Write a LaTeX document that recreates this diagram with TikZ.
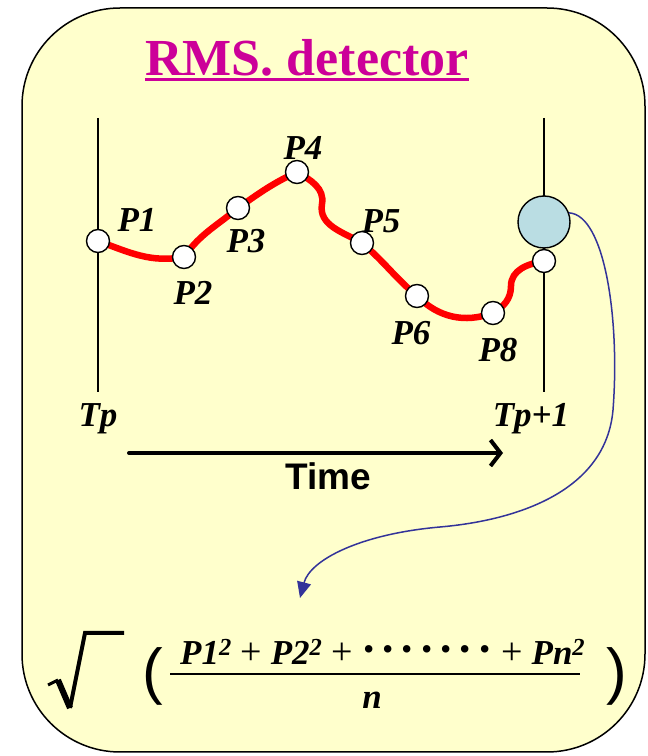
\documentclass[tikz,border=0pt]{standalone}
\usepackage{fontspec}
\setmainfont{Liberation Serif}
\setsansfont{Liberation Sans}
\usetikzlibrary{arrows.meta, positioning}
\definecolor{boxfill}{HTML}{FFFFCC}
\definecolor{titlecol}{HTML}{CC0099}
\definecolor{wavecol}{HTML}{FF0000}
\definecolor{rmsfill}{HTML}{BADDE3}
\definecolor{linkcol}{HTML}{333399}

% seven heavy dots standing for the terms left out
\newcommand{\dotrow}{{\fontsize{46}{46}\selectfont\bfseries
    ·\hspace{4pt}·\hspace{4pt}·\hspace{4pt}·\hspace{4pt}·\hspace{4pt}·\hspace{4pt}·}}
\newcommand{\plus}{\textup{\mdseries\fontsize{38}{40}\selectfont +}}

\begin{document}
\begin{tikzpicture}[x=1pt, y=1pt,
    every node/.style={inner sep=0pt},
    lab/.style={font=\fontsize{35}{38}\selectfont\bfseries\itshape, anchor=base},
    sample/.style={circle, draw, fill=white, line width=1.4pt, minimum size=23pt},
    rail/.style={line width=1.6pt},
    wave/.style={wavecol, line width=6.5pt},
    paren/.style={font=\sffamily\fontsize{62}{66}\selectfont},
]
\useasboundingbox (0,0) rectangle (648,756);
\draw[fill=boxfill, line width=1.5pt, rounded corners=98pt] (22,4) rectangle (645,748);

% title
\node[font=\fontsize{52}{58}\selectfont\bfseries, text=titlecol, anchor=base] (title) at (307,680) {RMS. detector};
\draw[titlecol, line width=3pt] ([yshift=-4pt]title.base west) -- ([yshift=-4pt]title.base east);

% the two instants Tp and Tp+1
\coordinate (lt) at (98,638);  \coordinate (lb) at (98,364);
\coordinate (rt) at (544,638); \coordinate (rb) at (544,364);
\draw[rail] (lt) -- (lb);
\draw[rail] (rt) -- (rb);

% samples of the signal
\coordinate (c1) at (98,515);
\coordinate (c2) at (184,499);
\coordinate (c3) at (238,548);
\coordinate (c4) at (297,584);
\coordinate (c5) at (362,513);
\coordinate (c6) at (417,460);
\coordinate (c8) at (493,443);
\coordinate (cn) at (544,495);

\draw[wave] (c1) to[out=-20, in=190] (c2)
    to[out=55, in=220] (c3)
    to[out=35, in=205] (c4)
    to[out=-30, in=80] (322,552)
    to[out=-100, in=150] (c5)
    to[out=-40, in=140] (c6)
    to[out=-45, in=200] (c8)
    to[out=30, in=-90] (511,470)
    to[out=90, in=190] (cn);

\foreach \i in {1,2,3,4,5,6,8,n}
    \node[sample] (p\i) at (c\i) {};
\node[sample, fill=rmsfill, minimum size=52pt] (rms) at (544,534) {};

\node[lab] (l1) at (137,524) {P1};
\node[lab] (l2) at (193,451) {P2};
\node[lab] (l3) at (246,503) {P3};
\node[lab] (l4) at (303,596) {P4};
\node[lab] (l5) at (381,523) {P5};
\node[lab] (l6) at (411,411) {P6};
\node[lab] (l8) at (498,394) {P8};
\node[lab] (tp) at (98,329) {Tp};
\node[lab] (tq) at (531,329) {Tp+1};

% time axis
\coordinate (t0) at (129,303);
\coordinate (t1) at (503,303);
\draw[line width=4pt, line cap=round, -{Straight Barb[length=10pt, width=26pt]}] (t0) -- (t1);
\node[font=\sffamily\bfseries\fontsize{37}{40}\selectfont, anchor=base] (time) at (328,266) {Time};

% from the detector down to the formula
\coordinate (tip) at (300,158);
\draw[linkcol, line width=1.5pt, -{Triangle[length=16pt, width=14pt]}]
    (rms.20) .. controls (605,541) and (620,436) .. (613,346)
    .. controls (606,266) and (520,236) .. (440,229)
    .. controls (360,222) and (310,196) .. (tip);

% the formula
\draw[line width=3pt] (48,71) -- (58,76);
\draw[line width=6pt] (58,76) -- (70,48);
\draw[line width=4pt] (70,48) -- (85,123) -- (124,123);
\node[paren] (lpar) at (153,80) {(};
\node[paren] (rpar) at (617,80) {)};
\node[font=\fontsize{35}{38}\selectfont\bfseries\itshape, anchor=base west] (num) at (180,91)
    {P1\textsuperscript{2} \plus{} P2\textsuperscript{2} \plus{} \textup{\dotrow} \plus{} Pn\textsuperscript{2}};
\draw[line width=2.4pt] (170,82) -- (580,82);
\node[font=\fontsize{35}{38}\selectfont\bfseries\itshape, anchor=base] (den) at (372,47) {n};
\end{tikzpicture}
\end{document}
